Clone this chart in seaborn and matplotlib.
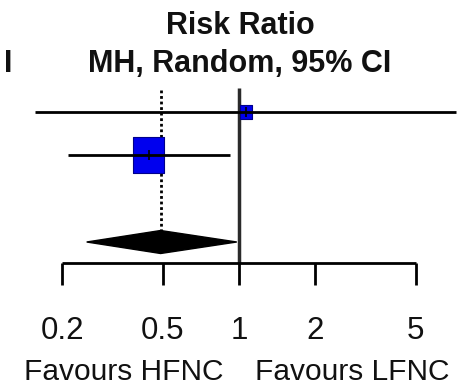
import numpy as np
import pandas as pd
import seaborn as sns
import matplotlib.pyplot as plt

# forest plot data (risk ratio, MH random, 95% CI)
study_rr = [1.07, 0.44]
study_lo = [0.156, 0.21]
study_hi = [7.2, 0.92]
study_weight = [9.0, 91.0]
pooled_rr = 0.49
pooled_lo = 0.25
pooled_hi = 0.98
tick_values = [0.2, 0.5, 1, 2, 5]
tick_labels = ["0.2", "0.5", "1", "2", "5"]

sns.set_style("white")
plt.rcParams['font.family'] = ['Liberation Sans', 'DejaVu Sans']

fig = plt.figure(figsize=(4.63, 3.88), dpi=100)
ax = fig.add_axes([0, 0, 1, 1])
ax.set_xscale('log')
# 1 sits at pixel 239, ~253 px per decade
ax.set_xlim(10 ** (-239 / 253), 10 ** ((463 - 239) / 253))
ax.set_ylim(388, 0)
ax.axis('off')

rows = [112, 155]
df = pd.DataFrame({"rr": study_rr, "row": rows, "w": study_weight})

# CI lines
ax.hlines(rows, study_lo, study_hi, color='black', lw=2, zorder=3)

# weight boxes
box = [(-0.43, -0.5), (0.43, -0.5), (0.43, 0.5), (-0.43, 0.5), (-0.43, -0.5)]
sns.scatterplot(data=df, x="rr", y="row", size="w", sizes=(100, 672),
                marker=box, color='#0000ee', edgecolor='#00008b', linewidth=0.8,
                legend=False, ax=ax, zorder=2)
ax.vlines(study_rr, [r - 5 for r in rows], [r + 5 for r in rows],
          color='black', lw=1.2, zorder=4)

# pooled diamond
yd = 242
ax.fill([pooled_lo, pooled_rr, pooled_hi, pooled_rr],
        [yd, yd - 11.5, yd, yd + 11.5], color='black', zorder=3)

# line of no effect and pooled estimate
ax.vlines(1, 88, 263, color='#2a2a2a', lw=2.5, zorder=1)
ax.vlines(pooled_rr, 90, yd - 11.5, color='black', lw=2, linestyles=(0, (1, 1)), zorder=1)

# scale axis
ax.hlines(263, tick_values[0], tick_values[-1], color='black', lw=2)
ax.vlines(tick_values, 263, 285, color='black', lw=2)
for v, lab in zip(tick_values, tick_labels):
    ax.text(v, 331, lab, ha='center', va='center', fontsize=22.5, color='#111111')

tr = ax.get_yaxis_transform()
ax.text(124 / 463, 372, "Favours HFNC", transform=tr, ha='center', va='center',
        fontsize=21.5, color='#111111')
ax.text(352 / 463, 372, "Favours LFNC", transform=tr, ha='center', va='center',
        fontsize=21.5, color='#111111')

ax.text(240 / 463, 26, "Risk Ratio", transform=tr, ha='center', va='center',
        fontsize=22, fontweight='bold', color='#111111')
ax.text(240 / 463, 64, "MH, Random, 95% CI", transform=tr, ha='center', va='center',
        fontsize=22, fontweight='bold', color='#111111')
ax.text(8 / 463, 64, "I", transform=tr, ha='center', va='center',
        fontsize=22, fontweight='bold', color='#111111')

fig.savefig("out.png", dpi=100)
